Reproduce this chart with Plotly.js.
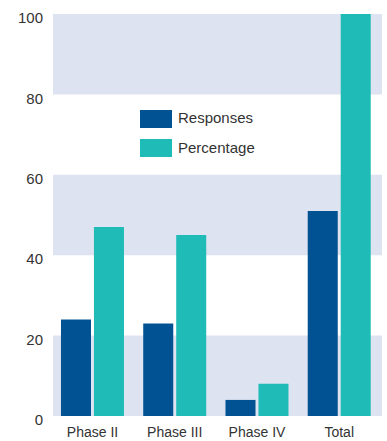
<!DOCTYPE html>
<html><head><meta charset="utf-8">
<script src="https://cdn.plot.ly/plotly-3.0.1.min.js"></script>
<style>html,body{margin:0;padding:0;background:#fff}#chart{width:387px;height:441px}</style>
</head><body><div id="chart"></div>
<script>
const categories = ["Phase II", "Phase III", "Phase IV", "Total"];
const responses = [24, 23, 4, 51];
const percentage = [47, 45, 8, 100];
const seriesNames = ["Responses", "Percentage"];
const yTicks = [0, 20, 40, 60, 80, 100];
const bands = [[0, 20], [40, 60], [80, 100]];

const colResp = "#005293";
const colPct = "#1fbcb7";
const bandCol = "#dde3f0";

const W = 387, H = 441, mL = 53, mR = 5, mT = 14, mB = 25;
const pw = W - mL - mR, ph = H - mT - mB;
const px = x => (x - mL) / pw;
const py = y => 1 - (y - mT) / ph;

const shapes = bands.map(b => ({type: "rect", xref: "paper", yref: "y", x0: 0, x1: 1, y0: b[0], y1: b[1], fillcolor: bandCol, line: {width: 0}, layer: "below"}));
[[110, colResp], [139, colPct]].forEach(([y, c]) => shapes.push({type: "rect", xref: "paper", yref: "paper", x0: px(140), x1: px(172), y0: py(y + 18), y1: py(y), fillcolor: c, line: {width: 0}}));
const annotations = [[118, seriesNames[0]], [148, seriesNames[1]]].map(([y, t]) => ({xref: "paper", yref: "paper", x: px(176), y: py(y), xanchor: "left", yanchor: "middle", text: t, showarrow: false, font: {size: 15, color: "#333"}}));

const data = [
  {type: "bar", name: seriesNames[0], x: categories, y: responses, marker: {color: colResp}, hoverinfo: "none"},
  {type: "bar", name: seriesNames[1], x: categories, y: percentage, marker: {color: colPct}, hoverinfo: "none"}
];
const layout = {
  width: W, height: H,
  margin: {l: mL, r: mR, t: mT, b: mB},
  paper_bgcolor: "#fff", plot_bgcolor: "#fff",
  font: {family: "Liberation Sans, Arial, sans-serif", size: 14, color: "#333"},
  barmode: "group", bargap: 0.198, bargroupgap: 0.09,
  showlegend: false,
  xaxis: {range: [-0.48, 3.52], showgrid: false, zeroline: false, showline: false, ticks: "", ticklabelstandoff: 6, tickfont: {size: 14, color: "#333"}},
  yaxis: {range: [0, 100], tickvals: yTicks, showgrid: false, zeroline: false, showline: false, ticks: "", ticklabelstandoff: 9, ticklabelshift: 4, tickfont: {size: 15, color: "#333"}},
  shapes: shapes, annotations: annotations
};
Plotly.newPlot("chart", data, layout, {displayModeBar: false, staticPlot: true});
</script></body></html>
